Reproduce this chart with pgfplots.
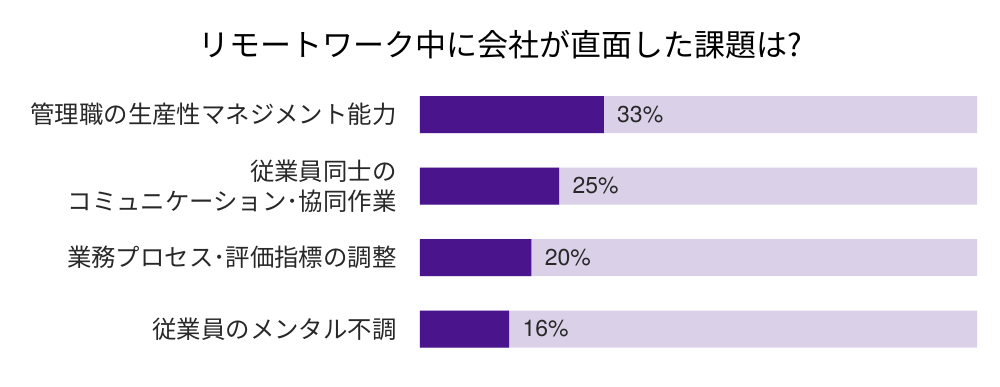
\documentclass[border=0pt]{standalone}
\usepackage{fontspec}
\setmainfont{Noto Sans CJK JP}
\newfontfamily\numfont{TeX Gyre Heros}
\usepackage{pgfplots}
\pgfplotsset{compat=1.18}
\definecolor{dark}{RGB}{74,20,140}
\definecolor{light}{RGB}{218,208,232}
\definecolor{txt}{RGB}{40,40,40}
\begin{document}
\begin{tikzpicture}
\useasboundingbox (-210pt,-10.625pt) rectangle (290pt,182.375pt);
\begin{axis}[
  at={(0pt,0pt)}, anchor=south west,
  scale only axis, width=278.5pt, height=143pt,
  xmin=0, xmax=100, ymin=-0.5, ymax=3.5, y dir=reverse,
  axis line style={draw=none},
  major tick length=0pt,
  xtick=\empty,
  ytick={0,1,2,3},
  yticklabels={管理職の生産性マネジメント能力,{従業員同士の\\コミュニケーション･協同作業},業務プロセス･評価指標の調整,従業員のメンタル不調},
  yticklabel style={font=\fontsize{12.2}{15}\selectfont, align=right, text=txt, inner sep=0pt, xshift=-11.5pt},
  xbar, bar width=18.5pt, bar shift=0pt,
  clip=false,
]
\addplot[draw=none, fill=light] coordinates {(100,0) (100,1) (100,2) (100,3)};
\addplot[draw=none, fill=dark,
  nodes near coords={\pgfmathprintnumber[assume math mode=true]{\pgfplotspointmeta}\%},
  nodes near coords style={anchor=west, inner sep=0pt, xshift=6.5pt, font=\numfont\fontsize{11.5}{13}\selectfont, text=txt}
] coordinates {(33,0) (25,1) (20,2) (16,3)};
\end{axis}
\node[text=black] at (40pt,159.9pt) {\fontsize{15.5}{18}\selectfont リモートワーク中に会社が直面した課題は?};
\end{tikzpicture}
\end{document}
